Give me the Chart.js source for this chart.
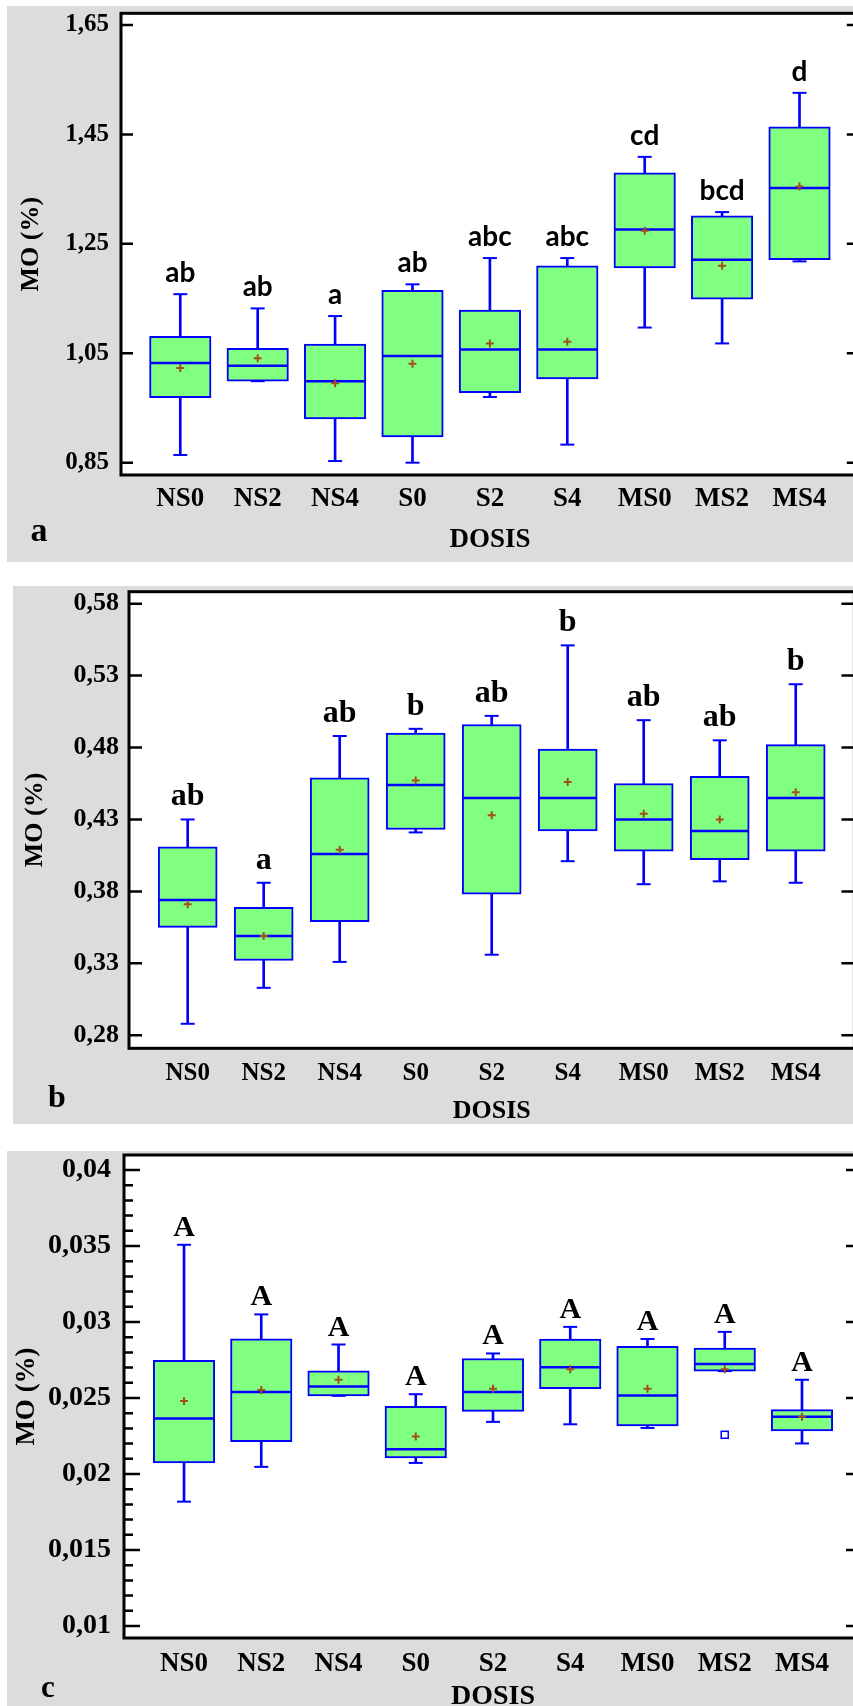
<!DOCTYPE html>
<html>
<head>
<meta charset="utf-8">
<script src="https://cdn.jsdelivr.net/npm/chart.js@4.4.0/dist/chart.umd.min.js"></script>
<style>
  html, body { margin: 0; padding: 0; background: #fff; overflow: hidden; }
  #page { position: relative; width: 853px; height: 1706px; overflow: hidden; }
  .panel { position: absolute; background: #dcdcdc; }
  canvas { position: absolute; left: 0; }
  .tag { position: absolute; width: 40px; text-align: center; line-height: 1;
         font-family: 'Liberation Serif', 'Times New Roman', serif; font-weight: bold; color: #000; }
</style>
</head>
<body>
<div id="page">
  <div class="panel" style="left:7px;top:6px;width:846px;height:556px"></div>
  <div class="panel" style="left:13px;top:586px;width:840px;height:538px"></div>
  <div class="panel" style="left:7px;top:1151px;width:846px;height:555px"></div>
  <canvas id="chartA" width="880" height="566" style="top:0px"></canvas>
  <canvas id="chartB" width="880" height="544" style="top:586px"></canvas>
  <canvas id="chartC" width="880" height="569" style="top:1151px"></canvas>
  <div class="tag" style="left:19px;top:513px;font-size:34px">a</div>
  <div class="tag" style="left:37px;top:1080px;font-size:32px">b</div>
  <div class="tag" style="left:28px;top:1671px;font-size:31px">c</div>
</div>
<script>
const categories = ['NS0', 'NS2', 'NS4', 'S0', 'S2', 'S4', 'MS0', 'MS2', 'MS4'];

// a: whisker low, Q1, median, Q3, whisker high, mean
const aLow  = [0.864, 0.999, 0.853, 0.850, 0.970, 0.883, 1.097, 1.068, 1.218];
const aQ1   = [0.969, 0.999, 0.930, 0.897, 0.978, 1.003, 1.206, 1.149, 1.221];
const aMed  = [1.032, 1.027, 0.999, 1.045, 1.057, 1.057, 1.276, 1.221, 1.352];
const aQ3   = [1.081, 1.059, 1.067, 1.165, 1.129, 1.210, 1.380, 1.301, 1.464];
const aHigh = [1.158, 1.132, 1.118, 1.176, 1.224, 1.224, 1.409, 1.308, 1.526];
const aMean = [1.023, 1.041, 0.995, 1.031, 1.068, 1.071, 1.274, 1.210, 1.355];
const aGroups = ['ab', 'ab', 'a', 'ab', 'abc', 'abc', 'cd', 'bcd', 'd'];
const aTicks = [0.85, 1.05, 1.25, 1.45, 1.65];

// b
const bLow  = [0.288, 0.313, 0.331, 0.421, 0.336, 0.401, 0.385, 0.387, 0.386];
const bQ1   = [0.355, 0.332, 0.359, 0.423, 0.378, 0.422, 0.408, 0.402, 0.408];
const bMed  = [0.374, 0.349, 0.406, 0.454, 0.445, 0.445, 0.430, 0.422, 0.445];
const bQ3   = [0.411, 0.369, 0.459, 0.490, 0.496, 0.479, 0.455, 0.460, 0.482];
const bHigh = [0.430, 0.386, 0.488, 0.493, 0.502, 0.551, 0.499, 0.485, 0.524];
const bMean = [0.371, 0.349, 0.409, 0.457, 0.433, 0.456, 0.434, 0.430, 0.449];
const bGroups = ['ab', 'a', 'ab', 'b', 'ab', 'b', 'ab', 'ab', 'b'];
const bTicks = [0.28, 0.33, 0.38, 0.43, 0.48, 0.53, 0.58];

// c
const cLow  = [0.01818, 0.02047, 0.02514, 0.02073, 0.02343, 0.02327, 0.02303, 0.02677, 0.02201];
const cQ1   = [0.02073, 0.02213, 0.02514, 0.02106, 0.02412, 0.02561, 0.02317, 0.02677, 0.02284];
const cMed  = [0.02365, 0.02540, 0.02575, 0.02163, 0.02540, 0.02703, 0.02516, 0.02724, 0.02376];
const cQ3   = [0.02748, 0.02889, 0.02679, 0.02445, 0.02760, 0.02888, 0.02840, 0.02828, 0.02424];
const cHigh = [0.03508, 0.03050, 0.02852, 0.02525, 0.02793, 0.02968, 0.02888, 0.02935, 0.02620];
const cMean = [0.02481, 0.02552, 0.02620, 0.02246, 0.02561, 0.02689, 0.02561, 0.02689, 0.02376];
const cOutliers = [null, null, null, null, null, null, null, 0.02258, null];
const cGroups = ['A', 'A', 'A', 'A', 'A', 'A', 'A', 'A', 'A'];
const cTicks = [0.01, 0.015, 0.02, 0.025, 0.03, 0.035, 0.04];

const SERIF = "'Liberation Serif', 'Times New Roman', serif";
const BLUE = '#0000ff';
const MEAN_COLOR = '#a0501e';

function commaLabel(v) {
  return String(v).replace('.', ',');
}

function boxPlot(id, p) {
  const canvas = document.getElementById(id);
  const isMajor = v => p.majors.some(m => Math.abs(m - v) < 1e-9);

  const datasets = [
    {
      // whisker stems
      type: 'bar',
      data: categories.map((c, i) => ({x: i, y: [p.low[i], p.high[i]]})),
      backgroundColor: BLUE, borderWidth: 0, barThickness: 2, grouped: false, order: 2
    },
    {
      // boxes Q1..Q3
      type: 'bar',
      data: categories.map((c, i) => ({x: i, y: [p.q1[i], p.q3[i]]})),
      backgroundColor: '#80ff80', borderColor: BLUE, borderWidth: 2,
      borderSkipped: false, barThickness: p.boxW, grouped: false, order: 1
    }
  ];

  const plotDecor = {
    id: 'plotDecor',
    beforeDraw(chart) {
      const a = chart.chartArea, ctx = chart.ctx;
      ctx.save();
      ctx.fillStyle = '#fff';
      ctx.fillRect(a.left, a.top, a.right - a.left, a.bottom - a.top);
      ctx.restore();
    },
    afterDatasetsDraw(chart) {
      const ctx = chart.ctx, x = chart.scales.x, y = chart.scales.y;
      const half = p.boxW / 2;
      ctx.save();
      ctx.lineCap = 'butt';
      categories.forEach((c, i) => {
        const px = x.getPixelForValue(i);
        // caps
        ctx.strokeStyle = BLUE;
        ctx.lineWidth = 2;
        [p.low[i], p.high[i]].forEach(v => {
          const py = y.getPixelForValue(v);
          ctx.beginPath(); ctx.moveTo(px - 7, py); ctx.lineTo(px + 7, py); ctx.stroke();
        });
        // median
        ctx.lineWidth = 2.5;
        const pm = y.getPixelForValue(p.med[i]);
        ctx.beginPath(); ctx.moveTo(px - half + 1, pm); ctx.lineTo(px + half - 1, pm); ctx.stroke();
        // outlier
        if (p.outliers && p.outliers[i] !== null) {
          const po = y.getPixelForValue(p.outliers[i]);
          ctx.lineWidth = 1.5;
          ctx.fillStyle = '#fff';
          ctx.fillRect(px - 3.5, po - 3.5, 7, 7);
          ctx.strokeRect(px - 3.5, po - 3.5, 7, 7);
        }
        // mean
        const pa = y.getPixelForValue(p.mean[i]);
        ctx.strokeStyle = MEAN_COLOR;
        ctx.lineWidth = 2;
        ctx.beginPath();
        ctx.moveTo(px - 4, pa); ctx.lineTo(px + 4, pa);
        ctx.moveTo(px, pa - 4); ctx.lineTo(px, pa + 4);
        ctx.stroke();
      });
      // group letters
      ctx.font = p.groupFont;
      ctx.fillStyle = '#000';
      ctx.textAlign = 'center';
      ctx.textBaseline = 'alphabetic';
      p.groups.forEach((g, i) => {
        ctx.fillText(g, x.getPixelForValue(i), y.getPixelForValue(p.high[i]) - p.groupGap);
      });
      ctx.restore();
    },
    afterDraw(chart) {
      const a = chart.chartArea, ctx = chart.ctx, y = chart.scales.y;
      ctx.save();
      ctx.strokeStyle = '#000';
      ctx.lineWidth = 2.5;
      y.ticks.forEach(t => {
        const py = y.getPixelForValue(t.value);
        const len = isMajor(t.value) ? p.tickLen : p.minorLen;
        ctx.beginPath();
        ctx.moveTo(a.left, py); ctx.lineTo(a.left + len, py);
        ctx.moveTo(a.right - len, py); ctx.lineTo(a.right, py);
        ctx.stroke();
      });
      ctx.lineWidth = 3;
      ctx.strokeRect(a.left, a.top, a.right - a.left, a.bottom - a.top);
      ctx.restore();
    }
  };

  return new Chart(canvas, {
    type: 'bar',
    data: {datasets: datasets},
    options: {
      responsive: false,
      animation: false,
      events: [],
      layout: {padding: {top: p.padTop, right: canvas.width - p.plotRight, left: 0, bottom: 0}},
      plugins: {legend: {display: false}, tooltip: {enabled: false}},
      scales: {
        x: {
          type: 'linear', offset: false,
          min: -p.off, max: categories.length - 1 + p.off,
          grid: {display: false, drawTicks: false, offset: false},
          border: {display: false},
          afterBuildTicks: s => { s.ticks = categories.map((c, i) => ({value: i})); },
          afterFit: s => { s.height = p.xH; s.paddingLeft = 0; s.paddingRight = 0; },
          ticks: {
            autoSkip: false, maxRotation: 0, minRotation: 0, padding: p.xPad, color: '#000',
            font: {family: SERIF, weight: 'bold', size: p.xFont},
            callback: v => categories[v] || ''
          },
          title: {
            display: true, text: 'DOSIS', color: '#000',
            font: {family: SERIF, weight: 'bold', size: p.xTitleFont},
            padding: {top: 0, bottom: p.xTitlePad}
          }
        },
        y: {
          type: 'linear', min: p.yMin, max: p.yMax,
          grid: {display: false, drawTicks: false},
          border: {display: false},
          afterBuildTicks: s => { s.ticks = p.yTickValues.map(v => ({value: v})); },
          afterFit: s => { s.width = p.plotLeft; s.paddingTop = 0; s.paddingBottom = 0; },
          ticks: {
            autoSkip: false, padding: p.yPad, color: '#000',
            font: {family: SERIF, weight: 'bold', size: p.yFont, lineHeight: 1},
            callback: v => isMajor(v) ? commaLabel(p.majors.find(m => Math.abs(m - v) < 1e-9)) : ''
          },
          title: {
            display: true, text: 'MO (%)', color: '#000',
            font: {family: SERIF, weight: 'bold', size: p.yTitleFont},
            padding: {top: p.yTitlePad, bottom: 0}
          }
        }
      }
    },
    plugins: [plotDecor]
  });
}

// minor ticks for panel c every 0.001
const cTickValues = [];
for (let k = 0; k <= 30; k++) cTickValues.push(Math.round((0.01 + k * 0.001) * 10000) / 10000);

boxPlot('chartA', {
  low: aLow, q1: aQ1, med: aMed, q3: aQ3, high: aHigh, mean: aMean, groups: aGroups,
  majors: aTicks, yTickValues: aTicks,
  yMin: 0.8275, yMax: 1.6714, off: 0.766,
  padTop: 13.3, plotLeft: 121, plotRight: 858.8, xH: 91,
  boxW: 61.5, tickLen: 12, minorLen: 12,
  yFont: 25, yPad: 12, xFont: 27, xPad: 8, xTitleFont: 27, xTitlePad: 10,
  yTitleFont: 26, yTitlePad: 15.4,
  groupFont: "bold 28px Lato, 'Open Sans', sans-serif", groupGap: 12
});

boxPlot('chartB', {
  low: bLow, q1: bQ1, med: bMed, q3: bQ3, high: bHigh, mean: bMean, groups: bGroups,
  majors: bTicks, yTickValues: bTicks,
  yMin: 0.27096, yMax: 0.5883, off: 0.772,
  padTop: 5.7, plotLeft: 129, plotRight: 854.4, xH: 81.7,
  boxW: 59, tickLen: 13, minorLen: 13,
  yFont: 26, yPad: 10, xFont: 25, xPad: 10, xTitleFont: 26, xTitlePad: 3.4,
  yTitleFont: 26, yTitlePad: 19.4,
  groupFont: "bold 32px 'Liberation Serif', serif", groupGap: 14
});

boxPlot('chartC', {
  low: cLow, q1: cQ1, med: cMed, q3: cQ3, high: cHigh, mean: cMean, groups: cGroups,
  outliers: cOutliers,
  majors: cTicks, yTickValues: cTickValues,
  yMin: 0.009211, yMax: 0.040987, off: 0.777,
  padTop: 4, plotLeft: 124, plotRight: 862, xH: 82,
  boxW: 61.5, tickLen: 16, minorLen: 9,
  yFont: 28, yPad: 13, xFont: 27, xPad: 10, xTitleFont: 28, xTitlePad: 6,
  yTitleFont: 27, yTitlePad: 10.8,
  groupFont: "bold 30px 'Liberation Serif', serif", groupGap: 9
});
</script>
</body>
</html>
